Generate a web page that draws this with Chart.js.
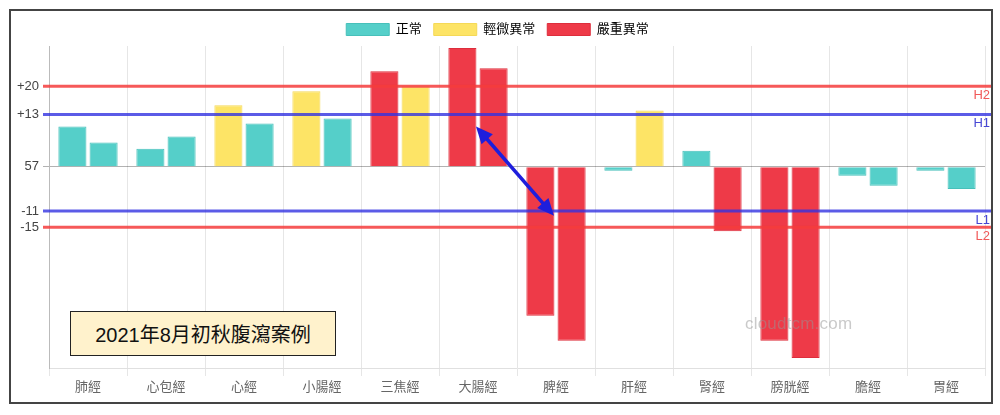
<!DOCTYPE html>
<html>
<head>
<meta charset="utf-8">
<script src="https://cdn.jsdelivr.net/npm/chart.js@4/dist/chart.umd.min.js"></script>
<style>
  html, body { margin: 0; padding: 0; background: #fff; }
  #wrap { position: relative; width: 1000px; height: 415px; }
  #c { position: absolute; left: 0; top: 0; }
  #frame { position: absolute; left: 9px; top: 9px; width: 980px; height: 391px; border: 2px solid #444; pointer-events: none; }
  #titlebox { position: absolute; left: 70px; top: 311px; width: 264px; height: 43px; background: #FFF2CC; border: 1.5px solid #222;
    font: 20px 'Liberation Sans', 'Noto Sans CJK TC', sans-serif; color: #111; display: flex; align-items: center; justify-content: center; }
  #wm { position: absolute; left: 745px; top: 314px; font: 17px 'Liberation Sans', 'Noto Sans', sans-serif; color: rgba(150,150,150,0.5); letter-spacing: 0.2px; }
</style>
</head>
<body>
<div id="wrap">
  <canvas id="c" width="1000" height="415"></canvas>
  <div id="frame"></div>
  <div id="titlebox">2021年8月初秋腹瀉案例</div>
  <div id="wm">cloudtcm.com</div>
</div>
<script>
const categories = ['肺經','心包經','心經','小腸經','三焦經','大腸經','脾經','肝經','腎經','膀胱經','膽經','胃經'];
const series1 = [10, 4.5, 15.25, 18.75, 23.75, 29.5, -37, -1, 4, -43.25, -2.25, -1];
const series2 = [6, 7.5, 10.75, 12, 20, 24.5, -43.25, 14, -16, -47.5, -4.75, -5.5];
const status1 = ['正常','正常','輕微異常','輕微異常','嚴重異常','嚴重異常','嚴重異常','正常','正常','嚴重異常','正常','正常'];
const status2 = ['正常','正常','正常','正常','輕微異常','嚴重異常','嚴重異常','輕微異常','嚴重異常','嚴重異常','正常','正常'];
const statusNames = ['正常','輕微異常','嚴重異常'];
const yTicks = [20, 13, 0, -11, -15];
const yTickLabels = ['+20', '+13', '57', '-11', '-15'];
const refLines = [
  { value: 20, label: 'H2', kind: 'red' },
  { value: 13, label: 'H1', kind: 'blue' },
  { value: -11, label: 'L1', kind: 'blue' },
  { value: -15, label: 'L2', kind: 'red' }
];
const arrowFrom = { index: 5, value: 10 };
const arrowTo = { index: 6, value: -12.2 };

const fillColors = { '正常': '#55CFC9', '輕微異常': '#FDE466', '嚴重異常': '#EE3A48' };
const edgeColors = { '正常': '#47C0BA', '輕微異常': '#F5D957', '嚴重異常': '#DD2E3C' };
const lineColors = { red: 'rgba(245,60,60,0.85)', blue: 'rgba(50,50,225,0.8)' };
const textColors = { red: 'rgba(240,80,80,0.95)', blue: 'rgba(60,60,210,0.95)' };

Chart.defaults.font.family = "'Liberation Sans', 'Noto Sans CJK TC', sans-serif";
Chart.defaults.font.size = 12;
Chart.defaults.color = '#666';

const overlay = {
  id: 'overlay',
  afterDatasetsDraw(chart) {
    const ctx = chart.ctx, y = chart.scales.y, x = chart.scales.x;
    const left = chart.chartArea.left - 6, right = chart.chartArea.right + 7;
    ctx.save();
    refLines.forEach(r => {
      const py = y.getPixelForValue(r.value);
      ctx.strokeStyle = lineColors[r.kind];
      ctx.lineWidth = 3;
      ctx.beginPath(); ctx.moveTo(left, py); ctx.lineTo(right, py); ctx.stroke();
      ctx.fillStyle = textColors[r.kind];
      ctx.font = "13px 'Liberation Sans', sans-serif";
      ctx.textAlign = 'right'; ctx.textBaseline = 'middle';
      ctx.fillText(r.label, right - 2, py + 9);
    });
    // arrow
    const x1 = x.getPixelForValue(arrowFrom.index) - 2, y1 = y.getPixelForValue(arrowFrom.value);
    const x2 = x.getPixelForValue(arrowTo.index) - 2, y2 = y.getPixelForValue(arrowTo.value);
    const ang = Math.atan2(y2 - y1, x2 - x1);
    const hl = 17, hw = 7.5;
    ctx.strokeStyle = '#1E1EDC'; ctx.fillStyle = '#1E1EDC'; ctx.lineWidth = 3.5;
    ctx.beginPath();
    ctx.moveTo(x1 + Math.cos(ang) * hl * 0.8, y1 + Math.sin(ang) * hl * 0.8);
    ctx.lineTo(x2 - Math.cos(ang) * hl * 0.8, y2 - Math.sin(ang) * hl * 0.8);
    ctx.stroke();
    function head(px, py, a) {
      ctx.beginPath();
      ctx.moveTo(px, py);
      ctx.lineTo(px - Math.cos(a) * hl + Math.sin(a) * hw, py - Math.sin(a) * hl - Math.cos(a) * hw);
      ctx.lineTo(px - Math.cos(a) * hl - Math.sin(a) * hw, py - Math.sin(a) * hl + Math.cos(a) * hw);
      ctx.closePath(); ctx.fill();
    }
    head(x2, y2, ang);
    head(x1, y1, ang + Math.PI);
    ctx.restore();
  }
};

new Chart(document.getElementById('c'), {
  type: 'bar',
  data: {
    labels: categories,
    datasets: [
      { label: 'A', data: series1, backgroundColor: status1.map(s => fillColors[s]), borderColor: status1.map(s => edgeColors[s]), borderWidth: 1 },
      { label: 'B', data: series2, backgroundColor: status2.map(s => fillColors[s]), borderColor: status2.map(s => edgeColors[s]), borderWidth: 1 }
    ]
  },
  options: {
    responsive: false,
    animation: false,
    layout: { padding: { left: 10, right: 15, top: 11, bottom: 17 } },
    plugins: {
      tooltip: { enabled: false },
      legend: {
        onClick: null,
        labels: {
          boxWidth: 43, boxHeight: 12, color: '#555', padding: 12, font: { size: 13 },
          generateLabels: () => statusNames.map(s => ({
            text: s, fillStyle: fillColors[s], strokeStyle: edgeColors[s], lineWidth: 1, hidden: false
          }))
        }
      }
    },
    scales: {
      x: {
        grid: { color: '#e6e6e6', offset: true, tickLength: 8 },
        border: { color: '#e0e0e0' },
        ticks: { color: '#666', padding: 4, font: { size: 13 } },
        afterFit(s) { s.height = 30; }
      },
      y: {
        min: -50, max: 30,
        afterBuildTicks(s) { s.ticks = yTicks.map(v => ({ value: v })); },
        afterFit(s) { s.width = 39; },
        ticks: {
          color: '#444', padding: 4, font: { size: 13 },
          callback(v) { const i = yTicks.indexOf(v); return i >= 0 ? yTickLabels[i] : ''; }
        },
        grid: {
          tickLength: 6,
          color: c => (c.tick && c.tick.value === 0) ? 'rgba(0,0,0,0.3)' : 'rgba(0,0,0,0)',
          lineWidth: 1
        },
        border: { color: '#bbb' }
      }
    }
  },
  plugins: [overlay]
});
</script>
</body>
</html>
